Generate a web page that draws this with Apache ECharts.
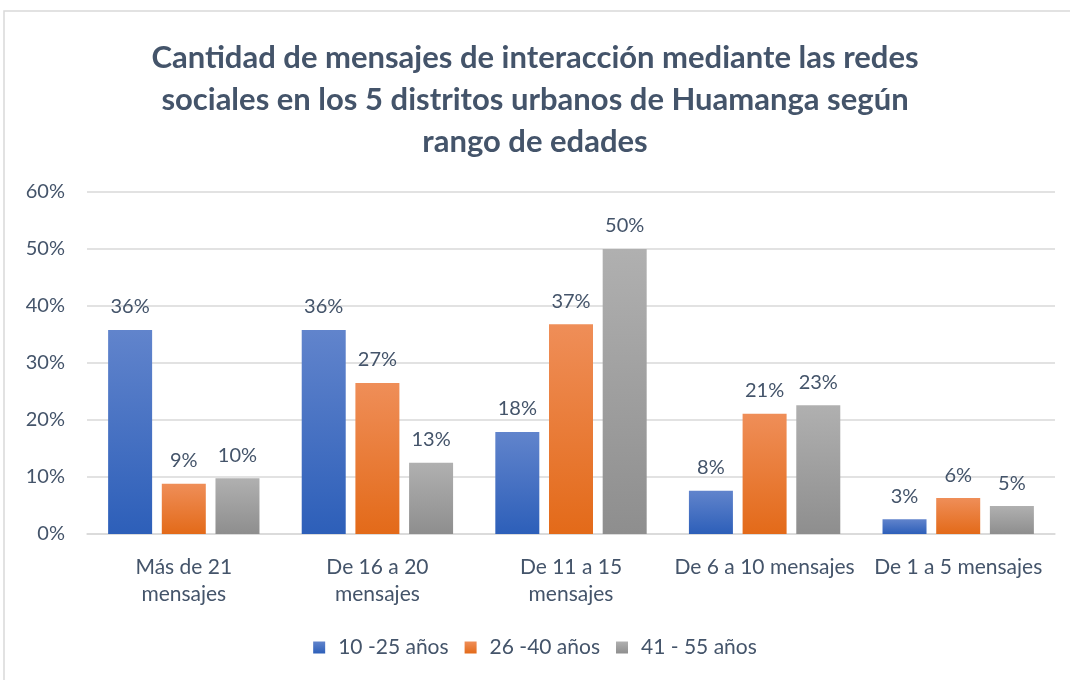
<!DOCTYPE html>
<html>
<head>
<meta charset="utf-8">
<script src="https://cdn.jsdelivr.net/npm/echarts@6/dist/echarts.min.js"></script>
<style>
  html, body { margin: 0; padding: 0; background: #fff; }
  #main { width: 1070px; height: 680px; }
</style>
</head>
<body>
<div id="main"></div>
<script>
// datos (en %)
var categorias = ['Más de 21\nmensajes', 'De 16 a 20\nmensajes', 'De 11 a 15\nmensajes', 'De 6 a 10 mensajes', 'De 1 a 5 mensajes'];
var edad10a25 = [35.8, 35.8, 17.9, 7.6, 2.6];
var edad26a40 = [8.8, 26.5, 36.8, 21.1, 6.3];
var edad41a55 = [9.8, 12.5, 50.0, 22.6, 4.9];
var nombres = ['10 -25 años', '26 -40 años', '41 - 55 años'];

var texto = '#44546a';
var fuente = 'Lato, "Open Sans", sans-serif';

function degradado(arriba, abajo) {
  return new echarts.graphic.LinearGradient(0, 0, 0, 1, [
    { offset: 0, color: arriba },
    { offset: 1, color: abajo }
  ]);
}

var myChart = echarts.init(document.getElementById('main'));

function serie(nombre, datos, c1, c2) {
  return {
    name: nombre,
    type: 'bar',
    data: datos,
    barWidth: 44,
    barGap: '22%',
    itemStyle: { color: degradado(c1, c2) },
    label: {
      show: true,
      position: 'top',
      distance: 13,
      color: texto,
      fontSize: 20,
      fontFamily: fuente,
      formatter: function (p) { return Math.round(p.value) + '%'; }
    }
  };
}

var option = {
  backgroundColor: '#fff',
  textStyle: { fontFamily: fuente },
  title: {
    text: 'Cantidad de mensajes de interacción mediante las redes\nsociales en los 5 distritos urbanos de Huamanga según\nrango de edades',
    left: 'center',
    top: 32,
    textStyle: {
      color: texto,
      fontSize: 31,
      fontWeight: 'bold',
      fontFamily: fuente,
      lineHeight: 42
    }
  },
  graphic: [{
    type: 'rect',
    shape: { x: 4, y: 11, width: 1080, height: 700 },
    style: { fill: 'none', stroke: '#d9d9d9', lineWidth: 1.5 },
    silent: true
  }],
  legend: {
    data: nombres,
    bottom: 17,
    left: 'center',
    itemWidth: 12,
    itemHeight: 12,
    itemGap: 16,
    icon: 'rect',
    textStyle: { color: texto, fontSize: 21, fontFamily: fuente, padding: [0, 0, 0, 8] }
  },
  grid: { left: 87, right: 15, top: 192, bottom: 146 },
  xAxis: {
    type: 'category',
    data: categorias,
    axisTick: { show: false },
    axisLine: { lineStyle: { color: '#d9d9d9', width: 1.5 } },
    axisLabel: { interval: 0, color: texto, fontSize: 21, fontFamily: fuente, margin: 20, lineHeight: 27 }
  },
  yAxis: {
    type: 'value',
    min: 0,
    max: 60,
    interval: 10,
    axisLine: { show: false },
    axisTick: { show: false },
    splitLine: { lineStyle: { color: '#d9d9d9', width: 1.5 } },
    axisLabel: { color: texto, fontSize: 20, fontFamily: fuente, margin: 22, formatter: '{value}%' }
  },
  series: [
    serie(nombres[0], edad10a25, '#6184cc', '#2d5fb9'),
    serie(nombres[1], edad26a40, '#ef8e58', '#e36a19'),
    serie(nombres[2], edad41a55, '#b0b0b0', '#8e8e8e')
  ]
};

myChart.setOption(option);
</script>
</body>
</html>
